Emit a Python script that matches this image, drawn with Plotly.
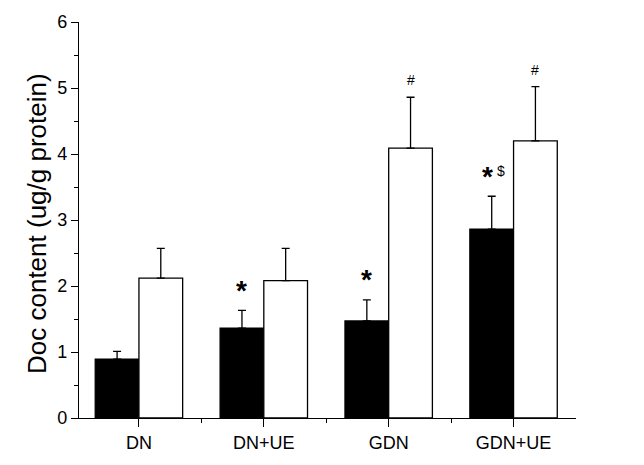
import plotly.graph_objects as go

categories = ["DN", "DN+UE", "GDN", "GDN+UE"]
x_pos = [0, 1, 2, 3]
black_vals = [0.89, 1.36, 1.47, 2.86]
black_err = [0.12, 0.27, 0.32, 0.50]
white_vals = [2.12, 2.08, 4.09, 4.20]
white_err = [0.45, 0.49, 0.77, 0.82]
black_marks = ["", "*", "*", "*"]
black_extra = ["", "", "", "$"]
white_marks = ["", "", "#", "#"]
y_ticks = [0, 1, 2, 3, 4, 5, 6]

FONT = "Liberation Sans, Arial, sans-serif"

fig = go.Figure()
fig.add_trace(go.Bar(
    x=x_pos, y=black_vals, name="black",
    marker=dict(color="black", line=dict(color="black", width=1.3)),
    error_y=dict(type="data", array=black_err, arrayminus=[0] * len(black_err),
                 symmetric=False, color="black", thickness=1.3, width=4),
))
fig.add_trace(go.Bar(
    x=x_pos, y=white_vals, name="white",
    marker=dict(color="white", line=dict(color="black", width=1.3)),
    error_y=dict(type="data", array=white_err, arrayminus=[0] * len(white_err),
                 symmetric=False, color="black", thickness=1.3, width=4),
))

off = 0.175
annots = []
for i in range(len(categories)):
    top_b = black_vals[i] + black_err[i]
    top_w = white_vals[i] + white_err[i]
    if black_marks[i]:
        annots.append(dict(x=x_pos[i] - off, y=top_b, xref="x", yref="y",
                           text="<b>" + black_marks[i] + "</b>", showarrow=False,
                           font=dict(size=28, color="black", family=FONT),
                           yanchor="middle", yshift=20,
                           xshift=-4 if black_extra[i] else 0))
    if black_extra[i]:
        annots.append(dict(x=x_pos[i] - off, y=top_b, xref="x", yref="y",
                           text=black_extra[i], showarrow=False,
                           font=dict(size=14, color="black", family=FONT),
                           yanchor="middle", yshift=25, xshift=9))
    if white_marks[i]:
        annots.append(dict(x=x_pos[i] + off, y=top_w, xref="x", yref="y",
                           text=white_marks[i], showarrow=False,
                           font=dict(size=14, color="black", family=FONT),
                           yanchor="middle", yshift=17))

annots.append(dict(x=0, y=0.5, xref="paper", yref="paper",
                   text="Doc content (ug/g protein)", textangle=-90,
                   showarrow=False, xanchor="center", yanchor="middle",
                   xshift=-42, yshift=-4,
                   font=dict(size=26, color="black", family=FONT)))

fig.update_layout(
    width=644, height=465,
    margin=dict(l=79, r=68, t=16, b=35),
    paper_bgcolor="white", plot_bgcolor="white",
    barmode="group", bargap=0.3, bargroupgap=0,
    showlegend=False,
    font=dict(family=FONT, color="black"),
    annotations=annots,
    xaxis=dict(range=[-0.48, 3.5], tickmode="array", tickvals=x_pos, ticktext=categories,
               ticks="outside", ticklen=8, tickwidth=1.3, tickcolor="black",
               showline=True, linecolor="black", linewidth=1.3,
               showgrid=False, zeroline=False,
               tickfont=dict(size=18, family=FONT, color="black"),
               minor=dict(tickmode="array", tickvals=[0.5, 1.5, 2.5], ticks="outside",
                          ticklen=4, tickwidth=1.3, tickcolor="black", showgrid=False)),
    yaxis=dict(range=[0, 6], tickmode="array", tickvals=y_ticks,
               ticks="outside", ticklen=7, tickwidth=1.3, tickcolor="black",
               showline=True, linecolor="black", linewidth=1.3,
               showgrid=False, zeroline=False,
               tickfont=dict(size=18, family=FONT, color="black"),
               minor=dict(dtick=0.5, ticks="outside", ticklen=4, tickwidth=1.3,
                          tickcolor="black", showgrid=False)),
)

# remove the default 8px body margin so the figure sits at the page origin
fig.write_html("out.html", config={"displayModeBar": False},
               post_script="document.body.style.margin='0px';")
